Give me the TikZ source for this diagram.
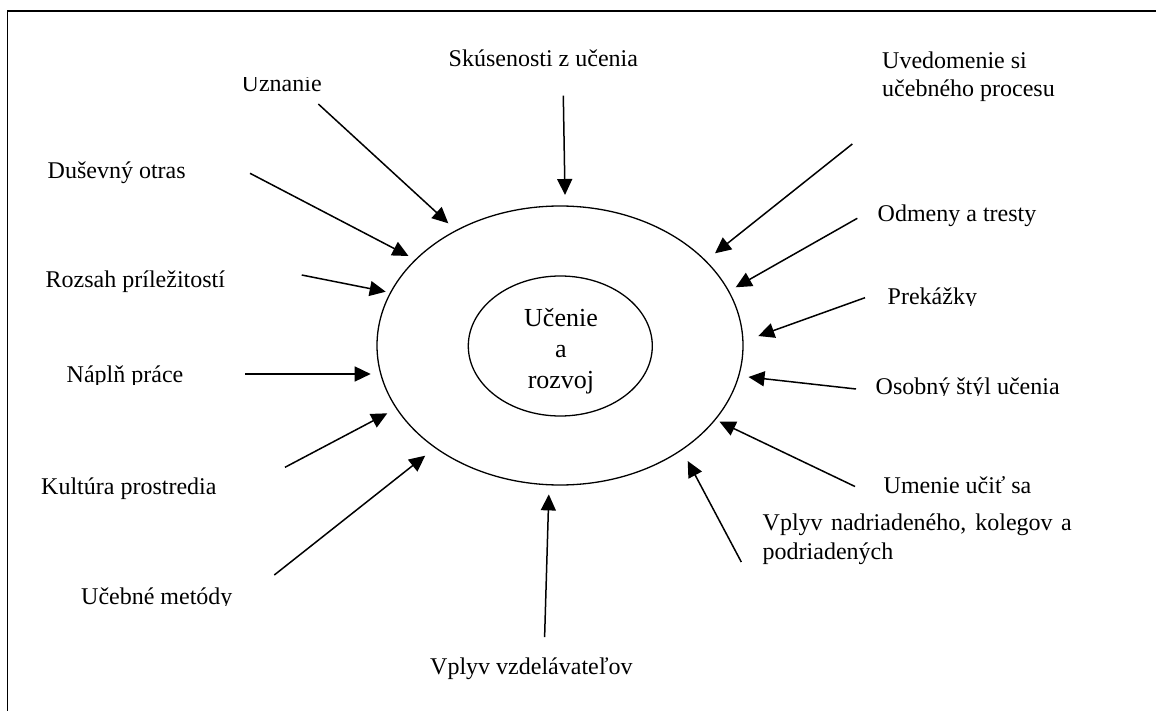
\documentclass[tikz,border=0pt]{standalone}
\usepackage{fontspec}
\setmainfont{Liberation Serif}
\usetikzlibrary{arrows.meta,shapes.geometric}
\begin{document}
\begin{tikzpicture}[x=1pt,y=-1pt,
  lbl/.style={font=\fontsize{24}{28.3}\selectfont, inner sep=0pt, anchor=base west, align=left},
  corefont/.style={font=\fontsize{26}{30.7}\selectfont, inner sep=0pt, align=center},
  ring/.style={draw, ellipse, line width=1.3pt, inner sep=0pt},
  infl/.style={line width=1.5pt, -{Triangle[length=16pt,width=15pt]}},
  frame/.style={line width=1.7pt}]
\useasboundingbox (0,0) rectangle (1156,711);

% open frame: left and top edges only
\draw[frame] (7.5,711) -- (7.5,10.7) -- (1156,10.7);

% central rings
\node[ring, minimum width=366pt, minimum height=279pt] (outer) at (560,345.5) {};
\node[ring, minimum width=184pt, minimum height=140pt] (core) at (560.3,346) {};
\node[corefont] (coretext) at (561,351.4) {Učenie\\a\\rozvoj};

% influence labels (some are cut by their text boxes)
\begin{scope}
  \clip (0,77.6) rectangle (1156,711);
  \node[lbl] (uznanie) at (241.5,91.7) {Uznanie};
\end{scope}
\node[lbl] (skusenosti) at (448.5,66.7) {Skúsenosti z učenia};
\node[lbl] (uvedomenie) at (882,96.7) {Uvedomenie si\\učebného procesu};
\node[lbl] (dusevny) at (47.5,178.5) {Duševný otras};
\node[lbl] (odmeny) at (877.5,221.7) {Odmeny a tresty};
\node[lbl] (rozsah) at (45.5,287.3) {Rozsah príležitostí};
\begin{scope}
  \clip (0,0) rectangle (1156,305);
  \node[lbl] (prekazky) at (887.5,304) {Prekážky};
\end{scope}
\begin{scope}
  \clip (0,0) rectangle (1156,384.5);
  \node[lbl] (napln) at (66.5,382.7) {Náplň práce};
\end{scope}
\begin{scope}
  \clip (0,0) rectangle (1156,395.5);
  \node[lbl] (osobny) at (875.5,394) {Osobný štýl učenia};
\end{scope}
\node[lbl] (kultura) at (41,494.3) {Kultúra prostredia};
\node[lbl] (umenie) at (883.5,493.3) {Umenie učiť sa};
\begin{scope}
  \clip (0,0) rectangle (1156,605.5);
  \node[lbl] (metody) at (81,604.3) {Učebné metódy};
\end{scope}
\node[lbl] (nadriadeny) at (762.5,559) {\makebox[309pt][s]{Vplyv nadriadeného, kolegov a}\\podriadených};
\node[lbl] (vzdelavatel) at (430,674.3) {Vplyv vzdelávateľov};

% arrow ends
\coordinate (uzS) at (318.3,104);   \coordinate (uzT) at (448.3,223.3);
\coordinate (skS) at (563.3,95.7);  \coordinate (skT) at (565,195);
\coordinate (uvS) at (852.3,144);   \coordinate (uvT) at (715,253.3);
\coordinate (duS) at (250,173.3);   \coordinate (duT) at (408.5,256);
\coordinate (odS) at (857.3,218.3); \coordinate (odT) at (735.7,287.3);
\coordinate (roS) at (301.7,275);   \coordinate (roT) at (385.7,291.7);
\coordinate (prS) at (865,297.7);   \coordinate (prT) at (758.3,336);
\coordinate (naS) at (245,374);     \coordinate (naT) at (370.7,374);
\coordinate (osS) at (856,389);     \coordinate (osT) at (748.5,377);
\coordinate (kuS) at (285,467.3);   \coordinate (kuT) at (387.3,413.3);
\coordinate (umS) at (855,486.5);   \coordinate (umT) at (719.5,421.7);
\coordinate (meS) at (274.3,575);   \coordinate (meT) at (425.2,455.7);
\coordinate (vnS) at (741.3,562);   \coordinate (vnT) at (687.7,461);
\coordinate (vvS) at (544.6,637.1); \coordinate (vvT) at (548.8,494.4);

% influence arrows
\draw[infl] (uzS) -- (uzT);
\draw[infl] (skS) -- (skT);
\draw[infl] (uvS) -- (uvT);
\draw[infl] (duS) -- (duT);
\draw[infl] (odS) -- (odT);
\draw[infl] (roS) -- (roT);
\draw[infl] (prS) -- (prT);
\draw[infl] (naS) -- (naT);
\draw[infl] (osS) -- (osT);
\draw[infl] (kuS) -- (kuT);
\draw[infl] (umS) -- (umT);
\draw[infl] (meS) -- (meT);
\draw[infl] (vnS) -- (vnT);
\draw[infl] (vvS) -- (vvT);
\end{tikzpicture}
\end{document}
